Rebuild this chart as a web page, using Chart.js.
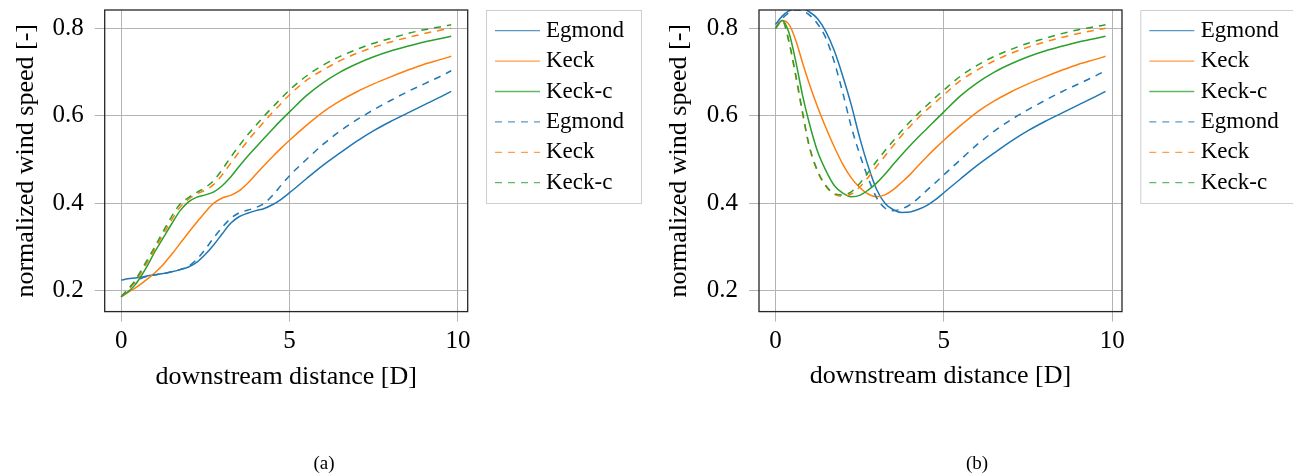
<!DOCTYPE html>
<html>
<head>
<meta charset="utf-8">
<script src="https://cdn.jsdelivr.net/npm/chart.js@4.4.1/dist/chart.umd.min.js"></script>
<style>
  html, body { margin: 0; padding: 0; background: #fff; }
  body { width: 1293px; height: 475px; position: relative; overflow: hidden; }
  canvas { position: absolute; top: 0; }
  #cA { left: 0; }
  #cB { left: 646px; }
  .cap { position: absolute; font-family: 'Liberation Serif', 'Times New Roman', serif; font-size: 19px; color: #000; transform: translate(-50%, -50%); white-space: nowrap; }
</style>
</head>
<body>
<canvas id="cA" width="646" height="475"></canvas>
<canvas id="cB" width="647" height="475"></canvas>
<div class="cap" style="left:324px; top:463px;">(a)</div>
<div class="cap" style="left:977px; top:463px;">(b)</div>
<script>
// ---------- data ----------
const xs = [0,0.2,0.4,0.6,0.8,1.0,1.25,1.5,1.75,2.0,2.25,2.5,2.75,3.0,3.25,3.5,3.75,4.0,4.25,4.5,4.75,5.0,5.5,6.0,6.5,7.0,7.5,8.0,8.5,9.0,9.5,9.8];
const seriesLabels = ['Egmond','Keck','Keck-c','Egmond','Keck','Keck-c'];
const xTickValues = [0, 5, 10];
const yTickValues = [0.2, 0.4, 0.6, 0.8];
const yAxisTitle = 'normalized wind speed [-]';
const xAxisTitle = 'downstream distance [D]';

// panel (a)
const egmondA   = [0.224,0.227,0.229,0.231,0.234,0.236,0.239,0.243,0.248,0.254,0.265,0.283,0.305,0.330,0.354,0.369,0.377,0.383,0.388,0.397,0.409,0.424, 0.456,0.487,0.515,0.542,0.566,0.587,0.606,0.625,0.644,0.656];
const keckA     = [0.186,0.196,0.205,0.216,0.228,0.241,0.260,0.283,0.308,0.333,0.357,0.380,0.400,0.412,0.418,0.428,0.445,0.466,0.487,0.507,0.526,0.544, 0.578,0.609,0.634,0.655,0.673,0.689,0.704,0.718,0.729,0.736];
const keckcA    = [0.186,0.197,0.212,0.234,0.260,0.289,0.321,0.353,0.383,0.403,0.414,0.419,0.426,0.440,0.460,0.484,0.507,0.528,0.549,0.570,0.590,0.609, 0.646,0.676,0.700,0.719,0.735,0.748,0.759,0.769,0.777,0.782];
const egmondDA  = [0.186,0.203,0.218,0.228,0.233,0.236,0.239,0.243,0.248,0.256,0.272,0.295,0.321,0.345,0.365,0.378,0.384,0.390,0.400,0.418,0.441,0.463, 0.500,0.535,0.565,0.591,0.614,0.635,0.655,0.673,0.691,0.703];
const keckDA    = [0.186,0.201,0.219,0.242,0.268,0.295,0.329,0.362,0.391,0.409,0.421,0.430,0.443,0.465,0.491,0.517,0.542,0.565,0.587,0.608,0.628,0.648, 0.681,0.705,0.726,0.743,0.757,0.769,0.779,0.788,0.796,0.800];
const keckcDA   = [0.186,0.203,0.222,0.247,0.274,0.301,0.336,0.370,0.398,0.413,0.425,0.436,0.452,0.477,0.505,0.531,0.556,0.578,0.600,0.620,0.640,0.659, 0.691,0.716,0.736,0.752,0.766,0.777,0.788,0.797,0.804,0.808];

// panel (b)
const egmondB   = [0.809,0.828,0.840,0.845,0.845,0.838,0.822,0.792,0.748,0.690,0.625,0.550,0.485,0.432,0.400,0.385,0.379,0.380,0.386,0.395,0.408,0.424, 0.456,0.487,0.515,0.542,0.566,0.587,0.606,0.625,0.644,0.656];
const keckB     = [0.800,0.818,0.809,0.773,0.722,0.674,0.620,0.572,0.528,0.489,0.458,0.436,0.421,0.415,0.419,0.431,0.448,0.466,0.487,0.507,0.526,0.544, 0.578,0.609,0.634,0.655,0.673,0.689,0.704,0.718,0.729,0.736];
const keckcB    = [0.800,0.818,0.790,0.725,0.648,0.584,0.518,0.474,0.440,0.423,0.415,0.418,0.430,0.446,0.466,0.489,0.511,0.532,0.552,0.571,0.590,0.609, 0.646,0.676,0.700,0.719,0.735,0.748,0.759,0.769,0.777,0.782];
const egmondDB  = [0.800,0.822,0.836,0.842,0.840,0.831,0.810,0.777,0.722,0.652,0.575,0.512,0.458,0.413,0.389,0.383,0.387,0.397,0.412,0.430,0.447,0.465, 0.500,0.535,0.565,0.591,0.614,0.635,0.655,0.673,0.691,0.703];
const keckDB    = [0.800,0.818,0.768,0.690,0.606,0.530,0.472,0.438,0.420,0.416,0.421,0.437,0.459,0.484,0.508,0.532,0.555,0.576,0.596,0.614,0.631,0.648, 0.681,0.705,0.726,0.743,0.757,0.769,0.779,0.788,0.796,0.800];
const keckcDB   = [0.800,0.818,0.770,0.694,0.610,0.532,0.474,0.440,0.422,0.419,0.426,0.445,0.470,0.496,0.520,0.543,0.566,0.587,0.606,0.624,0.642,0.659, 0.691,0.716,0.736,0.752,0.766,0.777,0.788,0.797,0.804,0.808];

// ---------- styling ----------
const colors = ['#1f77b4', '#ff7f0e', '#2ca02c', '#1f77b4', '#ff7f0e', '#2ca02c'];
const DASH = [7, 6];
const FONT = "'Liberation Serif', 'Times New Roman', serif";
const GRID = '#b4b4b4';

function makeDatasets(arrs) {
  return arrs.map((arr, i) => ({
    label: seriesLabels[i],
    data: xs.map((x, j) => ({ x: x, y: arr[j] })),
    borderColor: colors[i],
    backgroundColor: colors[i],
    borderWidth: 1.5,
    borderDash: i >= 3 ? DASH : [],
    pointRadius: 0,
    fill: false,
    cubicInterpolationMode: 'monotone',
    order: -i
  }));
}

const boxAndLegend = {
  id: 'boxAndLegend',
  afterDraw(chart) {
    const o = chart.options.plugins.boxAndLegend;
    const ctx = chart.ctx;
    const a = chart.chartArea;
    ctx.save();
    ctx.strokeStyle = '#262626';
    ctx.lineWidth = 1.3;
    ctx.setLineDash([]);
    ctx.strokeRect(a.left, a.top, a.right - a.left, a.bottom - a.top);
    ctx.strokeStyle = '#cfcfcf';
    ctx.lineWidth = 1;
    ctx.fillStyle = '#ffffff';
    ctx.fillRect(o.x, o.y, o.w, o.h);
    ctx.strokeRect(o.x + 0.5, o.y + 0.5, o.w, o.h);
    ctx.font = '23px ' + FONT;
    ctx.textBaseline = 'alphabetic';
    ctx.textAlign = 'left';
    chart.data.datasets.forEach((ds, i) => {
      const y = o.row0 + i * o.rowH;
      ctx.strokeStyle = ds.borderColor;
      ctx.globalAlpha = 0.75;
      ctx.lineWidth = 1.3;
      ctx.setLineDash(ds.borderDash || []);
      ctx.beginPath();
      ctx.moveTo(o.l0, y);
      ctx.lineTo(o.l1, y);
      ctx.stroke();
      ctx.globalAlpha = 1;
      ctx.setLineDash([]);
      ctx.fillStyle = '#000';
      ctx.fillText(ds.label, o.tx, y + 6);
    });
    ctx.restore();
  }
};

function makeChart(id, arrs, lay) {
  return new Chart(document.getElementById(id), {
    type: 'line',
    data: { datasets: makeDatasets(arrs) },
    plugins: [boxAndLegend],
    options: {
      responsive: false,
      animation: false,
      devicePixelRatio: 1,
      layout: { padding: lay.padding },
      plugins: {
        legend: { display: false },
        tooltip: { enabled: false },
        boxAndLegend: lay.legend
      },
      scales: {
        x: {
          type: 'linear',
          min: -0.49, max: 10.29,
          afterBuildTicks: s => { s.ticks = xTickValues.map(v => ({ value: v })); },
          afterFit: s => { s.height = lay.xh; s.paddingLeft = 0; s.paddingRight = 0; },
          ticks: { color: '#000', font: { family: FONT, size: 25 }, padding: 5, maxRotation: 0,
                   callback: v => String(v) },
          grid: { color: GRID, lineWidth: 1, tickLength: 10, tickColor: GRID },
          border: { display: false },
          title: { display: true, text: xAxisTitle, color: '#000', font: { family: FONT, size: 26 }, padding: 0 }
        },
        y: {
          type: 'linear',
          min: 0.152, max: 0.842,
          afterBuildTicks: s => { s.ticks = yTickValues.map(v => ({ value: v })); },
          afterFit: s => { s.width = lay.yw; s.paddingTop = 0; s.paddingBottom = 0; },
          ticks: { color: '#000', font: { family: FONT, size: 25 }, padding: 11,
                   callback: v => Number(v).toFixed(1) },
          grid: { color: GRID, lineWidth: 1, tickLength: 10, tickColor: GRID },
          border: { display: false },
          title: { display: true, text: yAxisTitle, color: '#000', font: { family: FONT, size: 26 }, padding: 0 }
        }
      }
    }
  });
}

makeChart('cA', [egmondA, keckA, keckcA, egmondDA, keckDA, keckcDA], {
  padding: { left: 10.4, top: 10, right: 178.3, bottom: 82.4 },
  yw: 94.3, xh: 81,
  legend: { x: 486, y: 10, w: 155, h: 193, l0: 495, l1: 540, tx: 546, row0: 30.7, rowH: 30.4 }
});
makeChart('cB', [egmondB, keckB, keckcB, egmondDB, keckDB, keckcDB], {
  padding: { left: 17.4, top: 10, right: 171, bottom: 83.4 },
  yw: 95.6, xh: 80,
  legend: { x: 494.3, y: 10, w: 170, h: 193, l0: 503.3, l1: 548.3, tx: 554.7, row0: 30.7, rowH: 30.4 }
});
</script>
</body>
</html>
